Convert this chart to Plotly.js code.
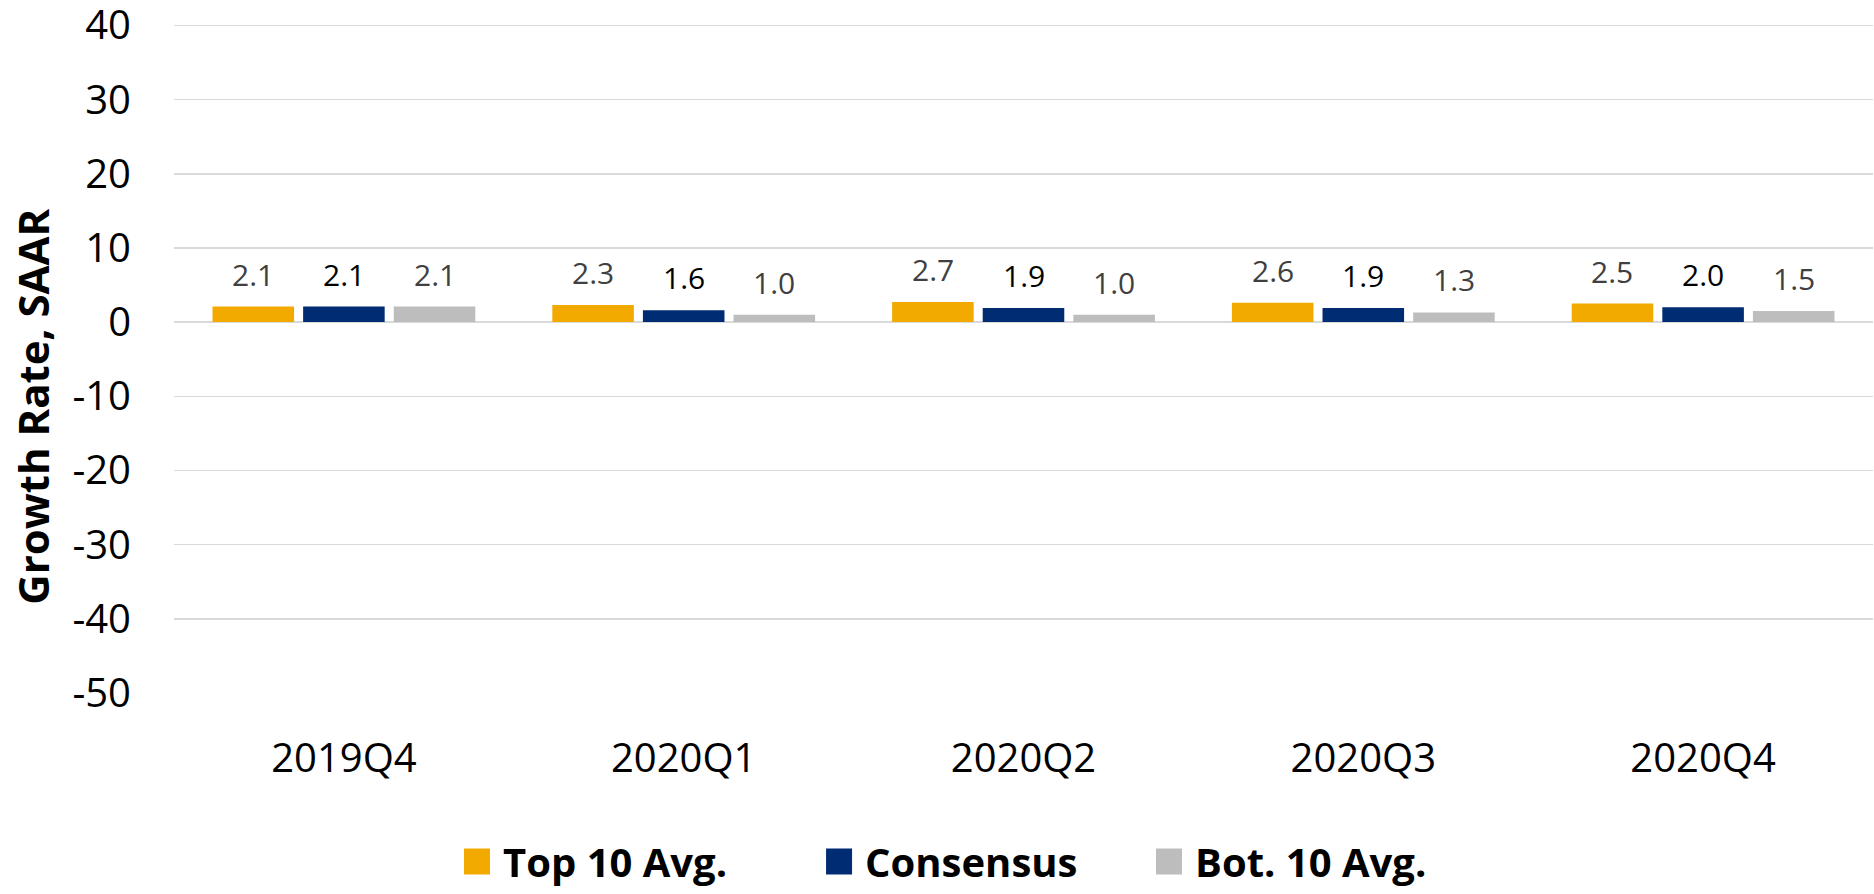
<!DOCTYPE html>
<html><head><meta charset="utf-8">
<script src="https://cdn.plot.ly/plotly-3.0.1.min.js"></script>
<style>html,body{margin:0;padding:0;background:#fff}#chart{width:1874px;height:894px}</style>
</head><body><div id="chart"></div>
<script>
const quarters = ['2019Q4', '2020Q1', '2020Q2', '2020Q3', '2020Q4'];
const top10Avg = [2.1, 2.3, 2.7, 2.6, 2.5];
const consensus = [2.1, 1.6, 1.9, 1.9, 2.0];
const bot10Avg = [2.1, 1.0, 1.0, 1.3, 1.5];
const seriesNames = ['Top 10 Avg.', 'Consensus', 'Bot. 10 Avg.'];
const yTickVals = [-50, -40, -30, -20, -10, 0, 10, 20, 30, 40];

const colors = ['#F2AA00', '#002C73', '#BEBDBE'];
const labelColors = ['#404040', '#000000', '#404040'];
const seriesVals = [top10Avg, consensus, bot10Avg];
const legendIds = ['legend', 'legend2', 'legend3'];
const FONT = '"Open Sans", "Noto Sans", sans-serif';
const bargap = 0.2, bargroupgap = 0.1;
const slot = (1 - bargap) / seriesVals.length;

const traces = seriesVals.map((vals, i) => ({
  type: 'bar', name: seriesNames[i], x: quarters, y: vals,
  marker: {color: colors[i]}, legend: legendIds[i], hoverinfo: 'x+y+name'
}));

const annotations = [];
seriesVals.forEach((vals, i) => {
  vals.forEach((v, j) => {
    annotations.push({
      xref: 'x', yref: 'y', x: j + (i - 1) * slot, y: v,
      text: v.toFixed(1), showarrow: false, yanchor: 'bottom', yshift: 10,
      font: {family: FONT, size: 30, color: labelColors[i]}
    });
  });
});
annotations.push({
  xref: 'paper', yref: 'paper', x: -0.083, y: 0.424, textangle: -90,
  text: '<b>Growth Rate, SAAR</b>', showarrow: false, xanchor: 'center', yanchor: 'middle',
  font: {family: FONT, size: 42, color: '#000'}
});

const legendBase = (x) => ({
  orientation: 'h', x: x, xanchor: 'left', y: -0.248, yanchor: 'middle',
  font: {family: FONT, size: 40, color: '#000', weight: 'bold'}, bgcolor: 'rgba(0,0,0,0)'
});

const layout = {
  width: 1874, height: 894,
  margin: {l: 174, r: 1, t: 18, b: 200},
  paper_bgcolor: '#fff', plot_bgcolor: '#fff',
  barmode: 'group', bargap: bargap, bargroupgap: bargroupgap,
  font: {family: FONT, color: '#000'},
  xaxis: {
    type: 'category', tickfont: {family: FONT, size: 40, color: '#000'},
    showgrid: false, zeroline: false, showline: false, ticks: '', ticklabelstandoff: 38
  },
  yaxis: {
    range: [-50, 41], tickvals: yTickVals, ticktext: yTickVals.map(String),
    tickfont: {family: FONT, size: 40, color: '#000'}, ticklabeloverflow: 'allow',
    showgrid: true, gridcolor: '#D9D9D9', gridwidth: 1.5,
    zeroline: true, zerolinecolor: '#D9D9D9', zerolinewidth: 1.5,
    showline: false, ticks: '', ticklabelstandoff: 42
  },
  showlegend: true,
  legend: legendBase(0.1701),
  legend2: legendBase(0.3832),
  legend3: legendBase(0.5774),
  annotations: annotations
};

Plotly.newPlot('chart', traces, layout, {displayModeBar: false, staticPlot: true}).then(() => {
  document.querySelectorAll('path.legendbar, .legendpoints path').forEach(p => {
    p.setAttribute('d', 'M7,13H-19V-13H7Z');
  });
});
</script></body></html>
